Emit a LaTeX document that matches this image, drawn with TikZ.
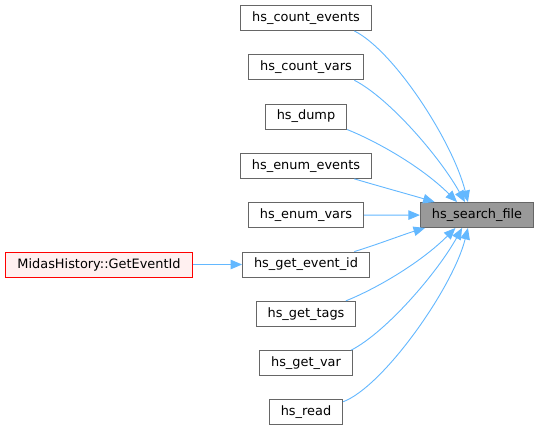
\documentclass[tikz,border=0pt]{standalone}
\usepackage{fontspec}
\setmainfont{DejaVu Sans}
\usetikzlibrary{arrows.meta}
\definecolor{edgeblue}{HTML}{63B8FF}
\definecolor{boxgray}{HTML}{666666}
\definecolor{curfill}{HTML}{999999}
\definecolor{redfill}{HTML}{FFF0F0}
\begin{document}
\begin{tikzpicture}[x=1pt, y=-1pt,
    fnbox/.style={draw=boxgray, fill=white, line width=0.9pt, minimum height=25pt, inner xsep=11.5pt, inner ysep=0pt, font=\fontsize{12.9}{15}\selectfont},
    call/.style={edgeblue, line width=0.9pt, -{Triangle[length=11.5pt,width=9.5pt]}}]
    \useasboundingbox[fill=white] (0,0) rectangle (540,431);
    \node[fnbox, fill=curfill] (search) at (477,215) {hs\_search\_file};
    \foreach \n/\t [count=\i from 0] in {cevents/hs\_count\_events, cvars/hs\_count\_vars, dump/hs\_dump,
        eevents/hs\_enum\_events, evars/hs\_enum\_vars, geid/hs\_get\_event\_id, gtags/hs\_get\_tags,
        gvar/hs\_get\_var, read/hs\_read}
        \node[fnbox] (\n) at (306,18+49.3*\i) {\t};
    \node[fnbox, draw=red, fill=redfill] (midas) at (99,264.5) {MidasHistory::GetEventId};
    % callers of hs_search_file
    \foreach \n/\a/\ax/\ay/\bx/\by/\b in {cevents/-15/40/20/-15/-60/125, cvars/-15/35/18/-25/-45/133,
        dump/south east/30/12/-35/-35/147, eevents/-15/20/6/-20/-6/163, geid/15/20/-6/-20/6/194,
        gtags/18/30/-12/-35/35/211, gvar/16/35/-18/-25/45/221, read/16/40/-15/-15/60/235}
        \draw[call] (\n.\a) .. controls +(\ax,\ay) and +(\bx,\by) .. (search.\b);
    \draw[call] (evars) -- (search);
    \draw[call] (midas) -- (geid);
\end{tikzpicture}
\end{document}
